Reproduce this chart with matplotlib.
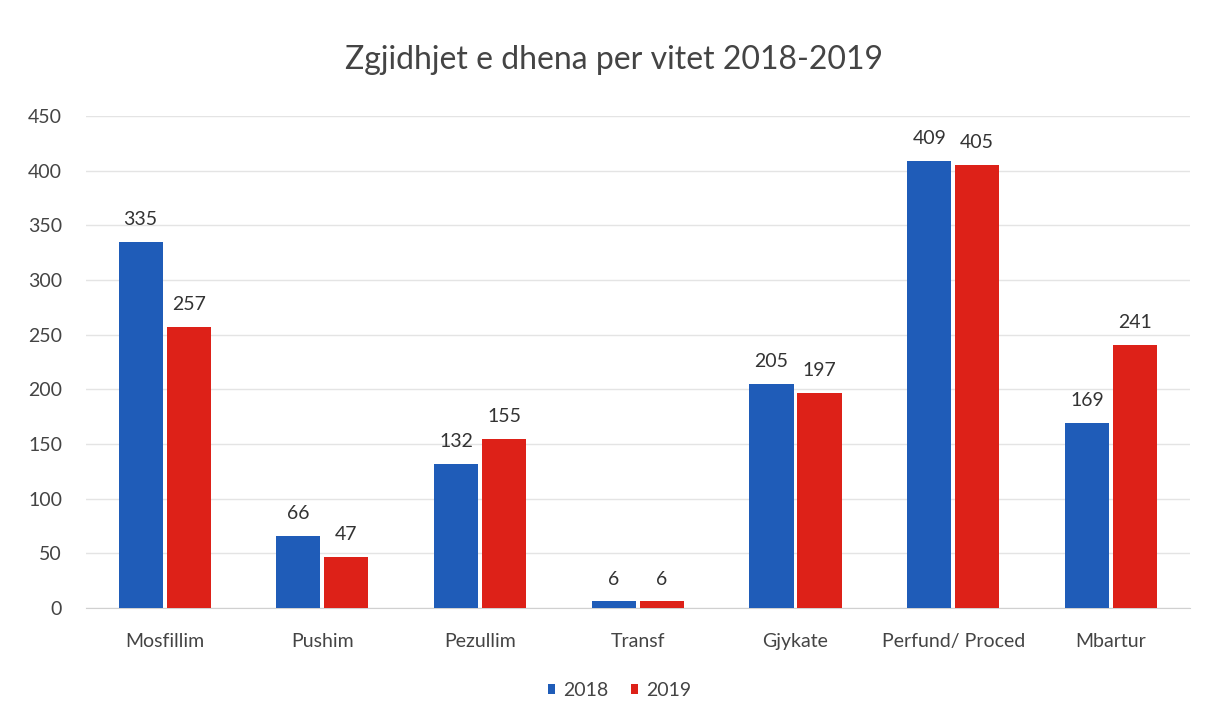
import matplotlib
matplotlib.use("Agg")
import matplotlib.pyplot as plt
import numpy as np

categories = ["Mosfillim", "Pushim", "Pezullim", "Transf", "Gjykate", "Perfund/ Proced", "Mbartur"]
values_2018 = [335, 66, 132, 6, 205, 409, 169]
values_2019 = [257, 47, 155, 6, 197, 405, 241]
series_names = ["2018", "2019"]
yticks = [0, 50, 100, 150, 200, 250, 300, 350, 400, 450]

plt.rcParams['font.family'] = ['Lato', 'DejaVu Sans']

fig = plt.figure(figsize=(12.08, 7.23), dpi=100)
ax = fig.add_axes([0.071, 0.159, 0.914, 0.6805])

x = np.arange(len(categories))
w = 0.28
off = 0.152
blue = "#1F5CB8"
red = "#DD2118"
b1 = ax.bar(x - off, values_2018, w, color=blue, label=series_names[0], zorder=3)
b2 = ax.bar(x + off, values_2019, w, color=red, label=series_names[1], zorder=3)

for bars in (b1, b2):
    for r in bars:
        ax.annotate(f"{int(r.get_height())}", (r.get_x() + r.get_width() / 2, r.get_height()),
                    xytext=(0, 10), textcoords="offset points", ha="center", va="bottom",
                    fontsize=14, color="#333333")

ax.set_xlim(-0.5, len(categories) - 0.5)
ax.set_ylim(0, 450)
ax.set_yticks(yticks)
ax.set_xticks(x)
ax.set_xticklabels(categories)
ax.tick_params(axis="both", length=0, labelsize=14, labelcolor="#444444")
ax.tick_params(axis="x", pad=18)
ax.tick_params(axis="y", pad=17)
ax.grid(axis="y", color="#E4E4E4", linewidth=1, zorder=0)
for s in ["top", "right", "left"]:
    ax.spines[s].set_visible(False)
ax.spines["bottom"].set_color("#D0D0D0")

fig.text(0.508, 0.917, "Zgjidhjet e dhena per vitet 2018-2019", ha="center", va="center",
         fontsize=23, color="#444444")

fig.legend(handles=[b1, b2], labels=series_names, loc="center", bbox_to_anchor=(0.513, 0.045),
           ncol=2, frameon=False, fontsize=14, handlelength=0.35, handleheight=0.35,
           handletextpad=0.4, columnspacing=1.2, labelcolor="#444444")

fig.savefig("out.png", dpi=100)
